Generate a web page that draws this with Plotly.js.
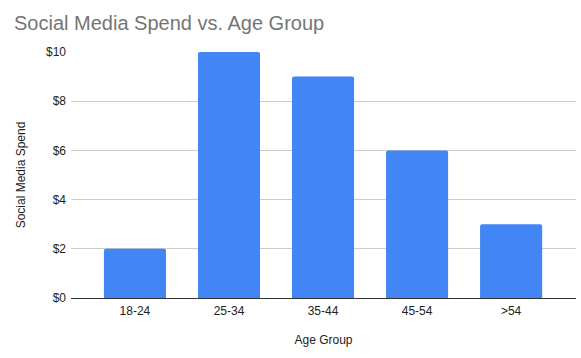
<!DOCTYPE html>
<html>
<head>
<meta charset="utf-8">
<script src="https://cdn.plot.ly/plotly-3.0.1.min.js"></script>
<style>html,body{margin:0;padding:0;background:#fff;}#chart{width:581px;height:358px;}</style>
</head>
<body>
<div id="chart"></div>
<script>
const categories = ["18-24", "25-34", "35-44", "45-54", ">54"];
const spend = [2, 10, 9, 6, 3];
const yTickVals = [0, 2, 4, 6, 8, 10];
const yTickText = ["$0", "$2", "$4", "$6", "$8", "$10"];

const trace = {
  type: "bar",
  x: categories,
  y: spend,
  width: 0.66,
  marker: {color: "#4285F4", cornerradius: 2},
  hoverinfo: "x+y"
};

const layout = {
  width: 581,
  height: 358,
  margin: {l: 71, r: 5, t: 52, b: 60},
  paper_bgcolor: "#ffffff",
  plot_bgcolor: "#ffffff",
  font: {family: "Liberation Sans, Arial, sans-serif", size: 12, color: "#222222"},
  title: {
    text: "Social Media Spend vs. Age Group",
    x: 14 / 581, xanchor: "left", xref: "container",
    y: 0.935, yanchor: "middle", yref: "container",
    font: {family: "Liberation Sans, Arial, sans-serif", size: 20, color: "#757575"}
  },
  xaxis: {
    type: "category",
    range: [-0.68, 4.69],
    showgrid: false,
    zeroline: false,
    showline: false,
    ticks: "",
    ticklabelstandoff: 4,
    tickfont: {size: 12, color: "#222222"},
    title: {text: "Age Group", font: {size: 12, color: "#222222"}, standoff: 18}
  },
  yaxis: {
    range: [0, 10],
    tickvals: yTickVals,
    ticktext: yTickText,
    showgrid: true,
    gridcolor: "#cccccc",
    gridwidth: 1,
    zeroline: true,
    zerolinecolor: "#333333",
    zerolinewidth: 1,
    showline: false,
    ticks: "",
    ticklen: 0,
    ticklabelstandoff: 4,
    tickfont: {size: 12, color: "#222222"},
    title: {text: "Social Media Spend", font: {size: 12, color: "#222222"}, standoff: 17}
  },
  showlegend: false
};

Plotly.newPlot("chart", [trace], layout, {displayModeBar: false, staticPlot: true});
</script>
</body>
</html>
